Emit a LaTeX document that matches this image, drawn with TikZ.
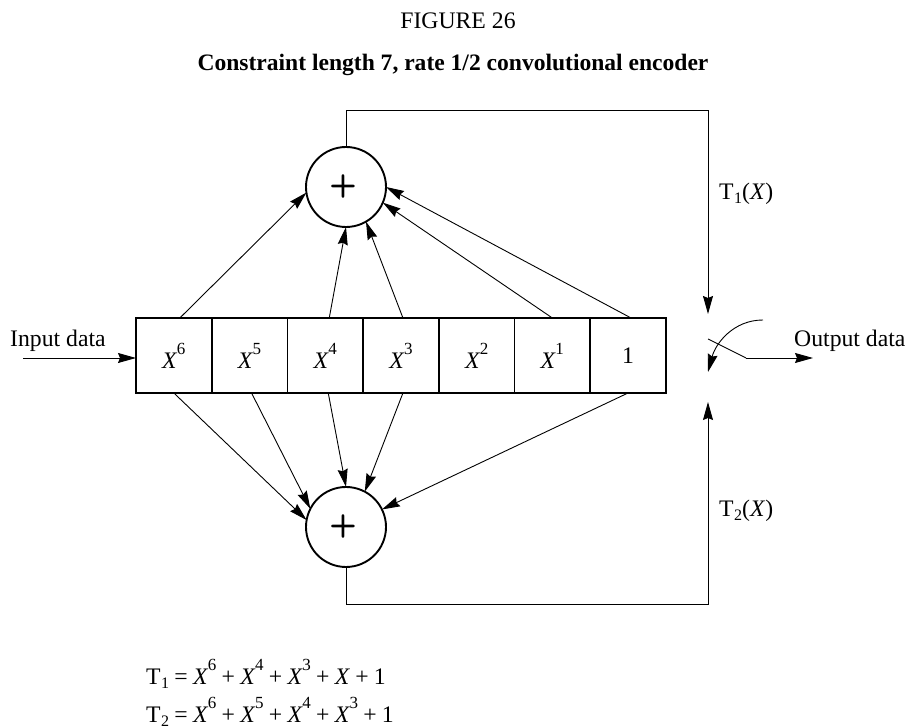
\documentclass[tikz,border=0pt]{standalone}
\usepackage{fontspec}
\setmainfont{Liberation Serif}
\usetikzlibrary{arrows.meta, positioning}
\newcommand{\xpow}[1]{\textit{X}\kern-0.5pt\raisebox{14pt}{\fontsize{17}{17}\selectfont #1}}
\newcommand{\tsub}[1]{T\kern0.5pt\raisebox{-4pt}{\fontsize{16}{16}\selectfont #1}}
\begin{document}
\begin{tikzpicture}[
      x=1pt, y=1pt,
      >={Stealth[length=18pt, width=10pt, inset=2pt]},
      cell/.style={rectangle, draw, line width=1.7pt, outer sep=0pt, minimum width=75.7pt, minimum height=75pt, inner sep=0pt, font=\fontsize{23.7}{26}\selectfont},
      adder/.style={circle, draw, line width=1.9pt, outer sep=0pt, minimum size=80pt, inner sep=0pt, font=\fontsize{32}{32}\selectfont\sffamily\bfseries},
      wire/.style={->, line width=0.9pt},
      label/.style={font=\fontsize{23.7}{26}\selectfont, inner sep=0pt}
  ]
      \useasboundingbox (0,0) rectangle (906,728);

      % Shift register
      \node[cell] (c6) at (173.85,372.5) {\xpow{6}};
      \foreach \name/\prev/\txt in {c5/c6/\xpow{5}, c4/c5/\xpow{4}, c3/c4/\xpow{3}, c2/c3/\xpow{2}, c1/c2/\xpow{1}, c0/c1/1}
          \node[cell, right=0pt of \prev] (\name) {\txt};

      % Adders
      \node[adder] (top) at (346,541) {\kern-6pt+};
      \node[adder] (bot) at (346,201) {\kern-6pt+};

      % Switch
      \coordinate (t1in) at (708,414);
      \coordinate (t2in) at (708,326);
      \coordinate (sw0) at (708,389);
      \coordinate (sw1) at (746,370);
      \coordinate (out) at (813,370);
      \coordinate (cam0) at (763,408);
      \coordinate (cam1) at (708,356);
      \coordinate (inp) at (23,370);
      \coordinate (tcor) at (708,618);
      \coordinate (bcor) at (708,124);

      % To upper adder
      \draw[wire] ([xshift=6pt]c6.north) -- (top.188);
      \draw[wire] ([xshift=4pt]c4.north) -- (top.270);
      \draw[wire] ([xshift=2pt]c3.north) -- (top.300);
      \draw[wire] (c1.north) -- (top.-23);
      \draw[wire] ([xshift=3pt]c0.north) -- (top.0);

      % To lower adder
      \draw[wire] (c6.south) -- (bot.170);
      \draw[wire] ([xshift=2pt]c5.south) -- (bot.153);
      \draw[wire] ([xshift=3pt]c4.south) -- (bot.90);
      \draw[wire] ([xshift=2pt]c3.south) -- (bot.62);
      \draw[wire] (c0.south) -- (bot.26);

      % Outputs
      \draw[wire] (top.north) |- (tcor) -- (t1in);
      \draw[wire] (bot.south) |- (bcor) -- (t2in);
      \draw[wire] (inp) -- (inp -| c6.west);
      \draw[wire, -] (sw0) -- (sw1);
      \draw[wire] (sw1) -- (out);
      \draw[wire] (cam0) to[out=180, in=75] (cam1);

      % Labels
      \node[label] (fig) at (458,707) {FIGURE 26};
      \node[label, font=\fontsize{23.55}{26}\selectfont\bfseries] (title) at (453,663) {Constraint length 7, rate 1/2 convolutional encoder};
      \node[label, anchor=base west] (lin) at (10,381) {Input data};
      \node[label, anchor=base west] (lout) at (794,381) {Output data};
      \node[label, anchor=base west] (lt1) at (719,528) {\tsub{1}(\textit{X})};
      \node[label, anchor=base west] (lt2) at (719,211) {\tsub{2}(\textit{X})};
      \node[label, anchor=base west] (eq1) at (146,43) {\spaceskip=5.3pt \tsub{1} = \xpow{6} + \xpow{4} + \xpow{3} + \textit{X} + 1};
      \node[label, anchor=base west] (eq2) at (146,5.5) {\spaceskip=5.3pt \tsub{2} = \xpow{6} + \xpow{5} + \xpow{4} + \xpow{3} + 1};
  \end{tikzpicture}
\end{document}
